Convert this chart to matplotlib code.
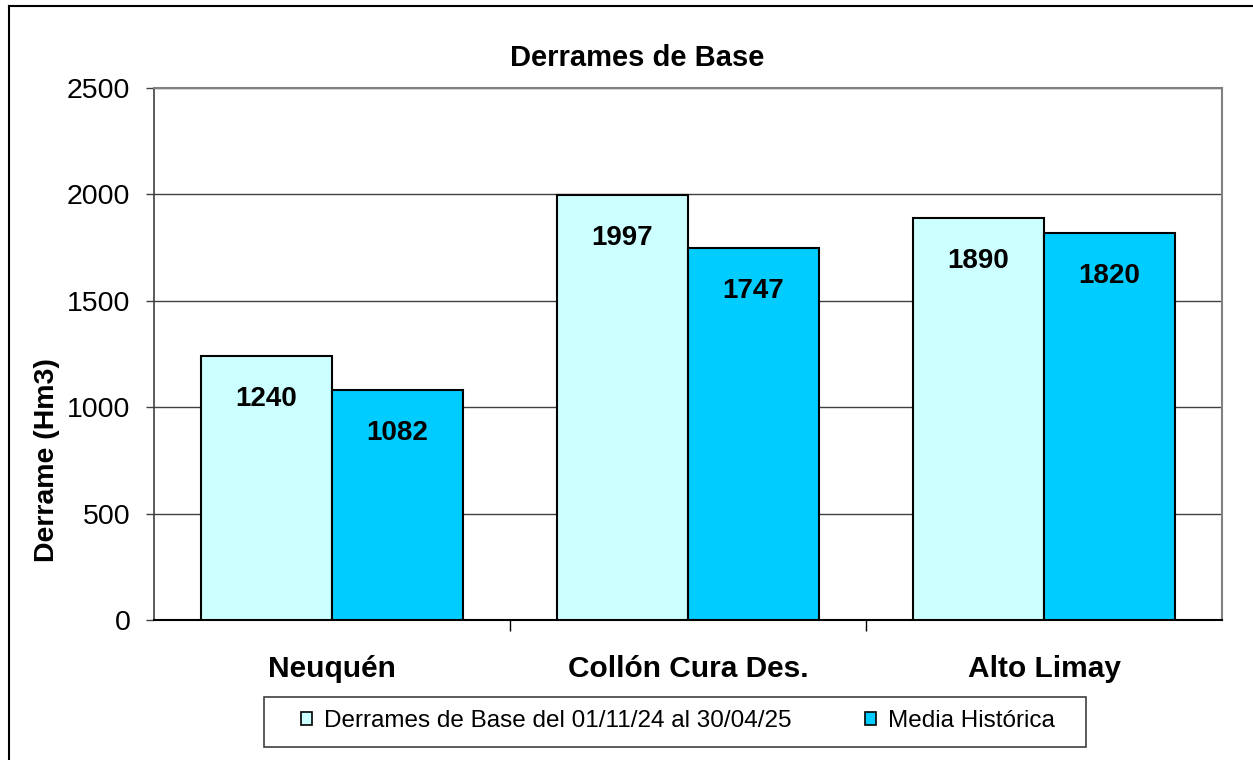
import matplotlib
matplotlib.use("Agg")
import matplotlib.pyplot as plt
from matplotlib.patches import Rectangle, Patch
from matplotlib.lines import Line2D
import numpy as np

plt.rcParams['font.family'] = ['Liberation Sans', 'DejaVu Sans']

categories = ["Neuquén", "Collón Cura Des.", "Alto Limay"]
derrames_base = [1240, 1997, 1890]
media_historica = [1082, 1747, 1820]
series_labels = ["Derrames de Base del 01/11/24 al 30/04/25", "Media Histórica"]
title = "Derrames de Base"
ylabel = "Derrame (Hm3)"
yticks = [0, 500, 1000, 1500, 2000, 2500]

c_light = "#CCFFFF"
c_dark = "#00CCFF"

fig = plt.figure(figsize=(12.53, 7.60), dpi=100)
ax = fig.add_axes([154/1253, 140/760, (1222-154)/1253, (620-88)/760])

x = np.arange(len(categories))
w = 0.368
b1 = ax.bar(x - w/2, derrames_base, w, color=c_light, edgecolor="black", linewidth=1.5, zorder=3)
b2 = ax.bar(x + w/2, media_historica, w, color=c_dark, edgecolor="black", linewidth=1.5, zorder=3)

for bars, vals in ((b1, derrames_base), (b2, media_historica)):
    for r, v in zip(bars, vals):
        ax.annotate(f"{v}", (r.get_x() + r.get_width()/2, v), xytext=(0, -31),
                    textcoords="offset points", ha="center", va="center",
                    fontsize=20, fontweight="bold", zorder=4)

ax.set_xlim(-0.5, 2.5)
ax.set_ylim(0, 2500)
ax.set_yticks(yticks)
ax.set_yticklabels([str(t) for t in yticks], fontsize=20.5)
ax.tick_params(axis="y", direction="out", length=6, width=1, color="#404040", pad=11)
ax.yaxis.grid(True, color="#404040", linewidth=1, zorder=0)
ax.set_axisbelow(True)

ax.set_xticks([0.5, 1.5])
ax.set_xticklabels([])
ax.tick_params(axis="x", direction="out", length=8, width=1, color="black")
ax.set_xticks(x, minor=True)
ax.set_xticklabels(categories, minor=True, fontsize=21.5, fontweight="bold")
ax.tick_params(axis="x", which="minor", length=0, pad=25)

for s in ("top", "right"):
    ax.spines[s].set_color("#808080")
    ax.spines[s].set_linewidth(1.5)
ax.spines["left"].set_color("#404040")
ax.spines["left"].set_linewidth(1.2)
ax.spines["bottom"].set_color("black")
ax.spines["bottom"].set_linewidth(1.5)

fig.text(637/1253, 1 - 58/760, title, ha="center", va="center", fontsize=21, fontweight="bold")
fig.text(47/1253, 1 - 460/760, ylabel, ha="center", va="center", rotation=90,
         fontsize=20.5, fontweight="bold")

# legend frame
fig.patches.append(Rectangle((264/1253, 1 - 747/760), (1086-264)/1253, 50/760,
                             transform=fig.transFigure, facecolor="white",
                             edgecolor="#404040", linewidth=1.2, zorder=1))
handles = [Patch(facecolor=c_light, edgecolor="black", linewidth=1.2),
           Patch(facecolor=c_dark, edgecolor="black", linewidth=1.2)]
leg = fig.legend(handles, series_labels, loc="center", bbox_to_anchor=(678/1253, 1 - 721/760),
                 ncol=2, frameon=False, fontsize=17.5, handlelength=0.45, handleheight=0.45,
                 handletextpad=0.5, columnspacing=3.0)

# outer chart border
fig.lines.append(Line2D([9/1253, 9/1253], [0, 1 - 6/760], transform=fig.transFigure,
                        color="black", linewidth=1.5))
fig.lines.append(Line2D([9/1253, 1], [1 - 6/760, 1 - 6/760], transform=fig.transFigure,
                        color="black", linewidth=1.5))

fig.savefig("out.png", dpi=100, facecolor="white")
